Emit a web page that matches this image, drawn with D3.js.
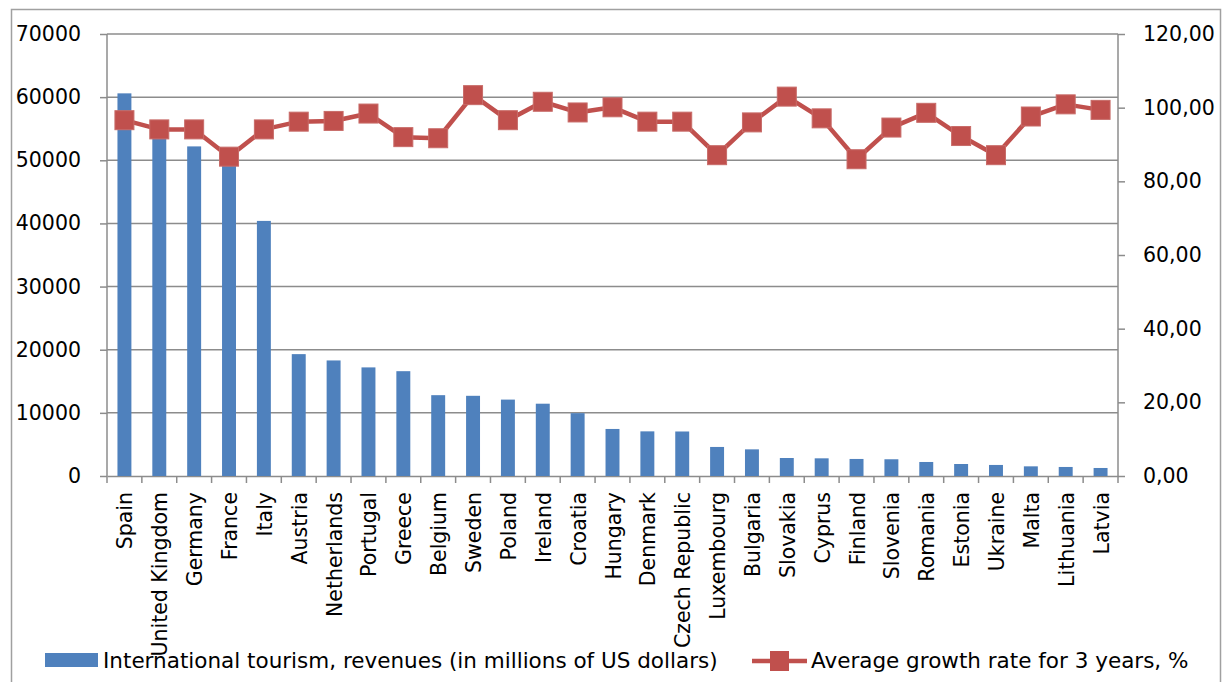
<!DOCTYPE html>
<html>
<head>
<meta charset="utf-8">
<script src="https://cdn.jsdelivr.net/npm/d3@7"></script>
<style>
  body { margin: 0; background: #fff; }
  text { font-family: "DejaVu Sans", "Liberation Sans", sans-serif; fill: #000; }
</style>
</head>
<body>
<div id="chart"></div>
<script>
// categories (countries)
const countries = ["Spain", "United Kingdom", "Germany", "France", "Italy", "Austria", "Netherlands",
  "Portugal", "Greece", "Belgium", "Sweden", "Poland", "Ireland", "Croatia", "Hungary", "Denmark",
  "Czech Republic", "Luxembourg", "Bulgaria", "Slovakia", "Cyprus", "Finland", "Slovenia", "Romania",
  "Estonia", "Ukraine", "Malta", "Lithuania", "Latvia"];

// International tourism, revenues (millions of US dollars)
const revenues = [60600, 54000, 52200, 49200, 40400, 19300, 18300, 17200, 16600, 12800, 12700, 12100,
  11450, 9950, 7450, 7070, 7050, 4600, 4220, 2850, 2800, 2700, 2650, 2220, 1900, 1750, 1530, 1430, 1270];

// Average growth rate for 3 years, %
const growth = [96.6, 94.1, 94.1, 86.7, 94.1, 96.2, 96.4, 98.4, 92.0, 91.7, 103.4, 96.6, 101.6, 98.7,
  100.1, 96.2, 96.2, 87.1, 96.0, 103.0, 97.1, 86.0, 94.6, 98.6, 92.3, 87.1, 97.6, 100.9, 99.4];

const leftTicks = [0, 10000, 20000, 30000, 40000, 50000, 60000, 70000];
const rightTicks = [0, 20, 40, 60, 80, 100, 120];

const legendLabels = ["International tourism, revenues (in millions of US dollars)",
                      "Average growth rate for 3 years, %"];

const width = 1223, height = 682;
const plot = { left: 107, right: 1118, top: 34, bottom: 476 };
const barColor = "#4F81BD", lineColor = "#C0504D", gridColor = "#8c8c8c";

let svg = d3.select("#chart").append("svg")
            .attr("width", width)
            .attr("height", height);

// outer frame
svg.append("rect")
   .attr("x", 11.5).attr("y", 9.5)
   .attr("width", 1209).attr("height", 690)
   .attr("fill", "none")
   .attr("stroke", "#a0a0a0")
   .attr("stroke-width", 1.5);

// scales
let x = d3.scaleBand()
          .domain(countries)
          .range([plot.left, plot.right])
          .padding(0);
let yLeft = d3.scaleLinear().domain([0, 70000]).range([plot.bottom, plot.top]);
let yRight = d3.scaleLinear().domain([0, 120]).range([plot.bottom, plot.top]);

// gridlines (from left axis)
svg.append("g")
   .selectAll("line")
   .data(leftTicks.filter(d => d > 0))
   .enter().append("line")
   .attr("x1", plot.left).attr("x2", plot.right)
   .attr("y1", d => yLeft(d)).attr("y2", d => yLeft(d))
   .attr("stroke", gridColor)
   .attr("stroke-width", 1.5);

// left axis
let axL = svg.append("g")
             .attr("transform", `translate(${plot.left},0)`)
             .call(d3.axisLeft(yLeft).tickValues(leftTicks).tickSize(7).tickPadding(19).tickFormat(d3.format("d")));
// right axis
let commaLocale = d3.formatLocale({ decimal: ",", thousands: " ", grouping: [3], currency: ["", ""] });
let axR = svg.append("g")
             .attr("transform", `translate(${plot.right},0)`)
             .call(d3.axisRight(yRight).tickValues(rightTicks).tickSize(7).tickPadding(18).tickFormat(commaLocale.format(".2f")));
// bottom axis
let axB = svg.append("g")
             .attr("transform", `translate(0,${plot.bottom})`)
             .call(d3.axisBottom(x).tickSize(0).tickFormat(""));

[axL, axR, axB].forEach(function(ax) {
  ax.select(".domain").attr("stroke", gridColor).attr("stroke-width", 1.5);
  ax.selectAll(".tick line").attr("stroke", gridColor).attr("stroke-width", 1.5);
  ax.selectAll("text").style("font-size", "20.5px").attr("fill", "#000");
});
axL.select(".domain").attr("d", `M0,${plot.top}V${plot.bottom}`);
axR.select(".domain").attr("d", `M0,${plot.top}V${plot.bottom}`);

// category boundary ticks below x axis
svg.append("g")
   .selectAll("line")
   .data(d3.range(countries.length + 1))
   .enter().append("line")
   .attr("x1", i => plot.left + i * x.step()).attr("x2", i => plot.left + i * x.step())
   .attr("y1", plot.bottom).attr("y2", plot.bottom + 7)
   .attr("stroke", gridColor)
   .attr("stroke-width", 1.5);

// x labels (rotated)
svg.append("g")
   .selectAll("text")
   .data(countries)
   .enter().append("text")
   .attr("transform", d => `translate(${x(d) + x.bandwidth() / 2 + 8},${plot.bottom + 16}) rotate(-90)`)
   .style("text-anchor", "end")
   .style("font-size", "20.5px")
   .text(d => d);

// bars
let barW = x.bandwidth() * 0.4;
svg.append("g")
   .selectAll("rect")
   .data(revenues)
   .enter().append("rect")
   .attr("x", (d, i) => x(countries[i]) + (x.bandwidth() - barW) / 2)
   .attr("y", d => yLeft(d))
   .attr("width", barW)
   .attr("height", d => yLeft(0) - yLeft(d))
   .attr("fill", barColor);

// growth line
svg.append("path")
   .datum(growth)
   .attr("fill", "none")
   .attr("stroke", lineColor)
   .attr("stroke-width", 4.5)
   .attr("stroke-linejoin", "round")
   .attr("d", d3.line()
                .x((d, i) => x(countries[i]) + x.bandwidth() / 2)
                .y(d => yRight(d)));

// square markers
let mk = 19;
svg.append("g")
   .selectAll("rect")
   .data(growth)
   .enter().append("rect")
   .attr("x", (d, i) => x(countries[i]) + x.bandwidth() / 2 - mk / 2)
   .attr("y", d => yRight(d) - mk / 2)
   .attr("width", mk).attr("height", mk)
   .attr("fill", lineColor)
   .attr("stroke", "#c86b68")
   .attr("stroke-width", 1);

// legend
let leg = svg.append("g");
leg.append("rect")
   .attr("x", 45).attr("y", 653)
   .attr("width", 53).attr("height", 14)
   .attr("fill", barColor);
leg.append("text")
   .attr("x", 103).attr("y", 668)
   .style("font-size", "21.5px")
   .text(legendLabels[0]);
leg.append("line")
   .attr("x1", 752).attr("x2", 807)
   .attr("y1", 661).attr("y2", 661)
   .attr("stroke", lineColor)
   .attr("stroke-width", 4.5);
leg.append("rect")
   .attr("x", 770).attr("y", 651)
   .attr("width", 19).attr("height", 20)
   .attr("fill", lineColor);
leg.append("text")
   .attr("x", 811).attr("y", 668)
   .style("font-size", "21.5px")
   .text(legendLabels[1]);
</script>
</body>
</html>
